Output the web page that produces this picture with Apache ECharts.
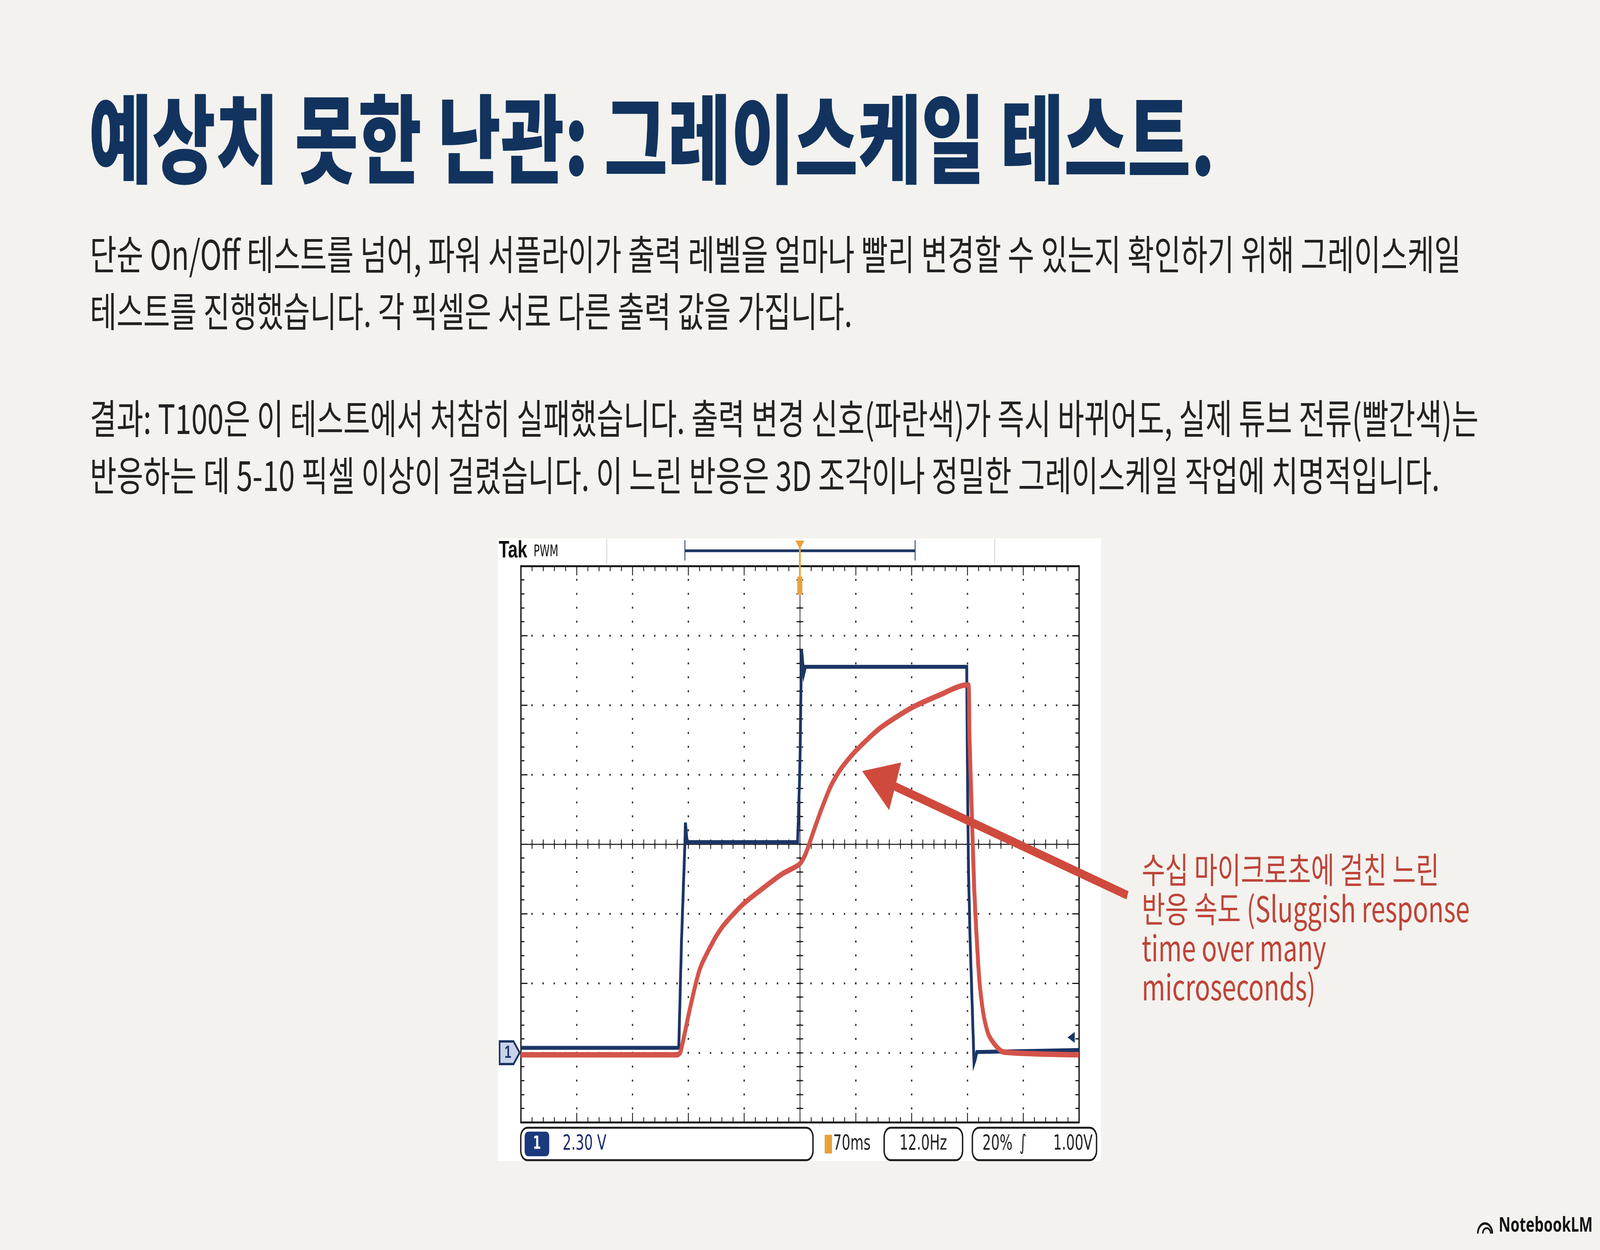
<!DOCTYPE html>
<html>
<head>
<meta charset="UTF-8" />
<title>그레이스케일 테스트</title>
<script src="https://cdn.jsdelivr.net/npm/echarts@6/dist/echarts.min.js"></script>
<style>
  html, body { margin: 0; padding: 0; background: #f3f2ee; overflow: hidden; }
  #main { width: 5733px; height: 3200px; transform-origin: 0 0; }
</style>
</head>
<body>
<div id="main"></div>
<script>
// scope divisions: time -5..5 div, amplitude -4..4 div
const blueT = [-5.0, -2.17, -2.12, -2.06, -2.05, -2.02, -0.04, 0.0, 0.03, 0.07, 0.10, 2.99, 3.00, 3.02, 3.05, 3.12, 3.14, 3.17, 5.0];
const blueV = [-2.93, -2.93, -1.38, 0.0, 0.31, 0.03, 0.03, 1.09, 2.80, 2.45, 2.55, 2.55, 1.26, -0.35, -1.38, -3.15, -3.10, -2.99, -2.96];

const redT = [-5.0, -2.20, -2.14, -1.96, -1.79, -1.54, -1.37, -1.02, -0.67, -0.32, -0.01, 0.10, 0.245, 0.39, 0.56, 0.74, 1.00, 1.44, 2.00, 2.49, 2.98, 3.02, 3.04, 3.08, 3.12, 3.17, 3.22, 3.29, 3.38, 3.51, 3.65, 5.0];
const redV = [-3.03, -3.03, -2.99, -2.33, -1.79, -1.38, -1.17, -0.865, -0.64, -0.43, -0.29, -0.145, 0.185, 0.51, 0.845, 1.09, 1.34, 1.67, 1.96, 2.14, 2.29, 2.29, 1.50, 0.47, -0.56, -1.38, -2.00, -2.45, -2.74, -2.90, -2.99, -3.03];

const trigLevel = [4.86, -2.78];

const titleText = '예상치 못한 난관: 그레이스케일 테스트.';
const para1 = ['단순 On/Off 테스트를 넘어, 파워 서플라이가 출력 레벨을 얼마나 빨리 변경할 수 있는지 확인하기 위해 그레이스케일',
               '테스트를 진행했습니다. 각 픽셀은 서로 다른 출력 값을 가집니다.'];
const para2 = ['결과: T100은 이 테스트에서 처참히 실패했습니다. 출력 변경 신호(파란색)가 즉시 바뀌어도, 실제 튜브 전류(빨간색)는',
               '반응하는 데 5-10 픽셀 이상이 걸렸습니다. 이 느린 반응은 3D 조각이나 정밀한 그레이스케일 작업에 치명적입니다.'];
const noteLines = ['수십 마이크로초에 걸친 느린', '반응 속도 (Sluggish response', 'time over many', 'microseconds)'];
const scopeTexts = { ch: '1', volts: '2.30 V', time: '70ms', freq: '12.0Hz', duty: '20%', level: '1.00V' };

const zip = (a, b) => a.map((t, i) => [t, b[i]]);

// fit the 5733x3200 slide into whatever viewport we get
const box = document.getElementById('main');
box.style.transform = 'scale(' + (window.innerWidth / 5733) + ',' + (window.innerHeight / 3200) + ')';

const chart = echarts.init(box);

const KR = '"Noto Sans CJK KR", sans-serif';
const NARROW = '"Liberation Sans Narrow", "DejaVu Sans Condensed", "Liberation Sans", sans-serif';
const INK = '#1a1a1a';

// plot area of the scope
const G = { left: 1866, top: 1449, width: 2000, height: 1424 };
const cx = G.left + G.width / 2;

function frameAxis(pos, grid, split, dashGap) {
  const isX = pos === 'top' || pos === 'bottom';
  return {
    type: 'value', gridIndex: grid, position: pos,
    min: isX ? -5 : -4, max: isX ? 5 : 4, interval: 1,
    axisLine: { onZero: false, lineStyle: { color: INK, width: 5 } },
    axisTick: { inside: true, length: 24, lineStyle: { color: INK, width: 3 } },
    minorTick: { show: true, splitNumber: 5, length: 13, lineStyle: { color: INK, width: 3 } },
    axisLabel: { show: false },
    splitLine: { show: split, lineStyle: { color: '#333', width: 5, type: [5, dashGap], dashOffset: 2.5 } }
  };
}

function centerAxis(pos, idx) {
  const isX = pos === 'top' || pos === 'bottom';
  return {
    type: 'value', gridIndex: 1, position: pos,
    min: isX ? -5 : -4, max: isX ? 5 : 4, interval: 1,
    axisLine: { onZero: true, onZeroAxisIndex: idx, lineStyle: { color: '#333', width: 3 } },
    axisTick: { inside: true, length: 12, lineStyle: { color: '#222', width: 3 } },
    minorTick: { show: true, splitNumber: 5, length: 12, lineStyle: { color: '#222', width: 3 } },
    axisLabel: { show: false },
    splitLine: { show: false }
  };
}

const graphics = [];
function txt(text, x, y, font, fill, align) {
  graphics.push({ type: 'text', z: 50, style: { text: text, x: x, y: y, font: font, fill: fill,
    textAlign: align || 'left', textVerticalAlign: 'middle' } });
}
function line(x1, y1, x2, y2, stroke, w, z) {
  graphics.push({ type: 'line', z: z || 5, shape: { x1: x1, y1: y1, x2: x2, y2: y2 },
    style: { stroke: stroke, lineWidth: w } });
}

// scope screenshot background
graphics.push({ type: 'rect', z: -10, shape: { x: 1784, y: 1378, width: 2161, height: 1594 }, style: { fill: '#ffffff' } });
// header
line(2174, 1380, 2174, 1444, '#d4d4d4', 3);
line(3564, 1380, 3564, 1444, '#d4d4d4', 3);
line(2454, 1410, 3279, 1410, '#1d3563', 7);
line(2454, 1383, 2454, 1435, '#1d3563', 3);
line(3279, 1383, 3279, 1435, '#1d3563', 3);
txt('Tak', 1787, 1410, 'bold 62px "Liberation Sans", sans-serif', '#111');
txt('PWM', 1912, 1414, '40px ' + NARROW, '#111');
// trigger position marker
line(cx, 1386, cx, 1525, '#e9a23b', 6, 20);
graphics.push({ type: 'polygon', z: 20, shape: { points: [[cx - 16, 1384], [cx + 16, 1384], [cx, 1406]] }, style: { fill: '#e9a23b' } });
graphics.push({ type: 'rect', z: 20, shape: { x: cx - 9, y: 1476, width: 18, height: 46 }, style: { fill: '#e9a23b' } });
// channel 1 ground marker
graphics.push({ type: 'polygon', z: 20, shape: { points: [[1790, 2666], [1840, 2666], [1862, 2695], [1840, 2724], [1790, 2724]] },
  style: { fill: '#c8d3ea', stroke: '#1d3563', lineWidth: 6 } });
txt(scopeTexts.ch, 1820, 2696, 'bold 44px "Liberation Sans", sans-serif', '#1d3563', 'center');
// bottom readout boxes
[[1866, 1047], [3168, 281], [3484, 445]].forEach(function (b) {
  graphics.push({ type: 'rect', z: 5, shape: { x: b[0], y: 2887, width: b[1], height: 83, r: 24 },
    style: { fill: '#fff', stroke: INK, lineWidth: 5 } });
});
graphics.push({ type: 'rect', z: 6, shape: { x: 1880, y: 2897, width: 88, height: 63, r: 12 }, style: { fill: '#1b3a7e' } });
txt(scopeTexts.ch, 1924, 2929, 'bold 46px ' + NARROW, '#fff', 'center');
txt(scopeTexts.volts, 2016, 2929, '54px ' + NARROW, '#1a2a6c');
graphics.push({ type: 'rect', z: 6, shape: { x: 2955, y: 2905, width: 26, height: 48 }, style: { fill: '#e9a23b' } });
txt(scopeTexts.time, 2985, 2929, '54px ' + NARROW, '#222');
txt(scopeTexts.freq, 3308, 2929, '54px ' + NARROW, '#222', 'center');
txt(scopeTexts.duty, 3520, 2929, '54px ' + NARROW, '#222');
txt('∫', 3665, 2929, '54px ' + NARROW, '#222', 'center');
txt(scopeTexts.level, 3915, 2929, '54px ' + NARROW, '#222', 'right');

// annotation arrow
line(4040, 2292, 3200, 2011, '#cf4a3c', 22, 60);
graphics.push({ type: 'polygon', z: 60, shape: { points: [[3089, 1974], [3229, 1952], [3186, 2074]] }, style: { fill: '#cf4a3c' } });
noteLines.forEach(function (s, i) { txt(s, 4091, 2226 + i * 100, '91px ' + KR, '#bf4338'); });

// heading and body text
txt(titleText, 318, 355, '900 247px ' + KR, '#12335e');
para1.forEach(function (s, i) { txt(s, 322, 651 + i * 146, '104px ' + KR, '#222'); });
para2.forEach(function (s, i) { txt(s, 322, 1071 + i * 146, '104px ' + KR, '#222'); });

// footer logo
txt('NotebookLM', 5370, 3138, 'bold 52px "Noto Sans", sans-serif', '#111');
graphics.push({ type: 'arc', z: 50, shape: { cx: 5321, cy: 3158, r: 26, startAngle: Math.PI, endAngle: 2 * Math.PI },
  style: { stroke: '#111', lineWidth: 6, fill: null } });
graphics.push({ type: 'arc', z: 50, shape: { cx: 5327, cy: 3158, r: 14, startAngle: Math.PI, endAngle: 2 * Math.PI },
  style: { stroke: '#111', lineWidth: 5, fill: null } });

const option = {
  backgroundColor: '#f3f2ee',
  animation: false,
  grid: [
    { left: G.left, top: G.top, width: G.width, height: G.height, show: false },
    { left: G.left, top: G.top, width: G.width, height: G.height, show: false }
  ],
  xAxis: [
    frameAxis('bottom', 0, true, 30.6),
    frameAxis('top', 0, false, 30.6),
    centerAxis('bottom', 2),
    centerAxis('top', 3)
  ],
  yAxis: [
    frameAxis('left', 0, true, 35),
    frameAxis('right', 0, false, 35),
    centerAxis('left', 2),
    centerAxis('right', 3)
  ],
  series: [
    {
      name: 'PWM', type: 'line', xAxisIndex: 0, yAxisIndex: 0, z: 3,
      data: zip(blueT, blueV), symbol: 'none',
      lineStyle: { color: '#1b3566', width: 10, join: 'miter' },
      markPoint: {
        symbol: 'triangle', symbolSize: [28, 26], symbolRotate: 90, label: { show: false },
        itemStyle: { color: '#1b3566' },
        data: [{ coord: trigLevel }]
      }
    },
    {
      name: 'Current', type: 'line', xAxisIndex: 0, yAxisIndex: 0, z: 4,
      data: zip(redT, redV), symbol: 'none', smooth: 0.25,
      lineStyle: { color: '#d4534a', width: 14 }
    }
  ],
  graphic: { elements: graphics }
};
chart.setOption(option);
</script>
</body>
</html>
